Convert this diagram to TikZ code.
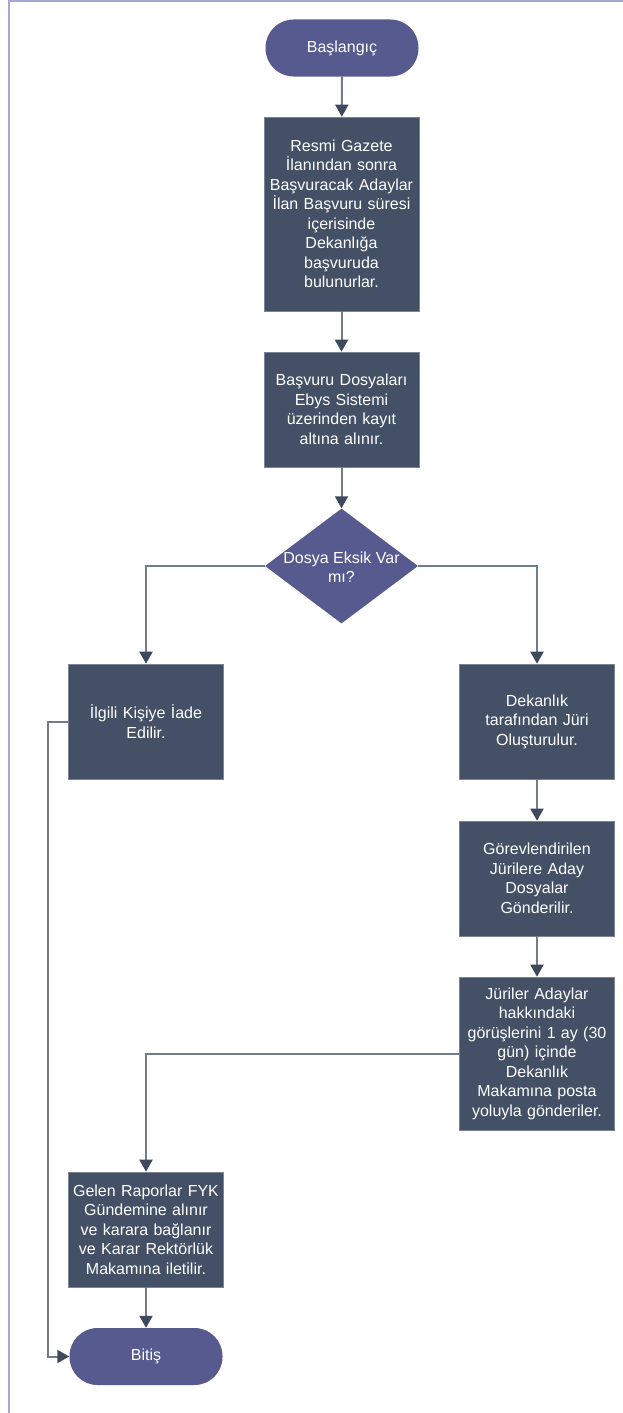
\documentclass[tikz,border=0pt]{standalone}
\usepackage{fontspec}
\setmainfont{Liberation Sans}
\usetikzlibrary{shapes.geometric,arrows.meta}
\definecolor{boxfill}{HTML}{435066}
\definecolor{termfill}{HTML}{565A8F}
\definecolor{linecol}{HTML}{717B8C}
\definecolor{tipcol}{HTML}{3D4A5C}
\definecolor{framecol}{HTML}{A6A8D4}
\tikzset{
  every node/.style={font=\fontsize{16}{19.5}\selectfont, text=white, align=center, inner sep=0pt},
  procbox/.style={rectangle, fill=boxfill, draw=boxfill!70!white, line width=0.6pt, minimum width=155pt, text width=150pt},
  termbox/.style={rectangle, rounded corners=28pt, fill=termfill, minimum width=153pt, minimum height=57pt},
  decbox/.style={diamond, fill=termfill, minimum width=153pt, minimum height=115pt},
  conn/.style={draw=linecol, line width=2pt, -{Triangle[length=12pt,width=13pt,fill=tipcol,color=tipcol]}},
  framel/.style={draw=framecol, line width=2pt}
}
\begin{document}
\begin{tikzpicture}[x=1pt,y=-1pt]
\useasboundingbox (0,0) rectangle (623,1413);
\draw[framel] (9,1) -- (623,1);
\draw[framel] (9,0) -- (9,1413);

\node[termbox] (start) at (342,48) {Başlangıç};
\node[procbox, minimum height=194pt] (b1) at (341.5,214) {Resmi Gazete\\İlanından sonra\\Başvuracak Adaylar\\İlan Başvuru süresi\\içerisinde\\Dekanlığa\\başvuruda\\bulunurlar.};
\node[procbox, minimum height=115pt] (b2) at (341.5,409.5) {Başvuru Dosyaları\\Ebys Sistemi\\üzerinden kayıt\\altına alınır.};
\node[decbox] (dec) at (341.5,566) {};
\node (dectext) at (341.5,567) {Dosya Eksik Var\\mı?};
\node[procbox, minimum height=115pt] (b3) at (146,721.5) {İlgili Kişiye İade\\Edilir.};
\node[procbox, minimum height=115pt] (b4) at (537,721.5) {Dekanlık\\tarafından Jüri\\Oluşturulur.};
\node[procbox, minimum height=115pt] (b5) at (537,878.5) {Görevlendirilen\\Jürilere Aday\\Dosyalar\\Gönderilir.};
\node[procbox, minimum height=153pt] (b6) at (537,1053.5) {Jüriler Adaylar\\hakkındaki\\görüşlerini 1 ay (30\\gün) içinde\\Dekanlık\\Makamına posta\\yoluyla gönderiler.};
\node[procbox, minimum height=115pt] (b7) at (146,1229.5) {Gelen Raporlar FYK\\Gündemine alınır\\ve karara bağlanır\\ve Karar Rektörlük\\Makamına iletilir.};
\node[termbox] (end) at (146,1356.5) {Bitiş};

\coordinate (loop) at (48,1356.5);

\draw[conn] (start) -- (b1);
\draw[conn] (b1) -- (b2);
\draw[conn] (b2) -- (dec);
\draw[conn] (dec.west) -| (b3.north);
\draw[conn] (dec.east) -| (b4.north);
\draw[conn] (b4) -- (b5);
\draw[conn] (b5) -- (b6);
\draw[conn] (b6.west) -| (b7.north);
\draw[conn] (b7) -- (end);
\draw[conn] (b3.west) -| (loop) -- (end.west);
\end{tikzpicture}
\end{document}
